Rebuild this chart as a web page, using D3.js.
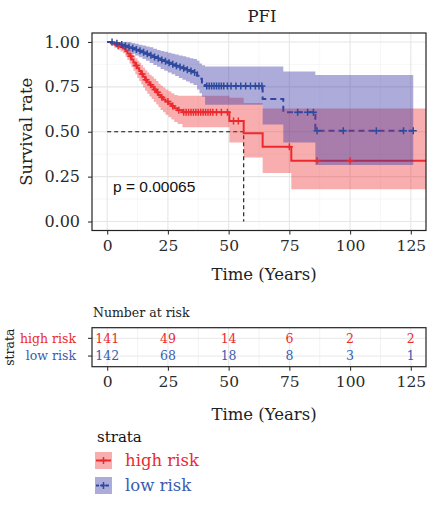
<!DOCTYPE html>
<html><head><meta charset="utf-8">
<script src="https://cdn.jsdelivr.net/npm/d3@7"></script>
<style>body{margin:0;background:#fff}</style>
</head><body>
<svg id="c" width="434" height="513"></svg>
<script>
// ---------- data ----------
const strata = ["high risk", "low risk"];
// high risk KM steps: time, survival, lower CI, upper CI
const highTime = [0,1.5,3,4.5,5.5,6.5,7.5,8.3,9.2,10,10.8,11.6,12.4,13.2,14,14.8,15.6,16.5,17.4,18.3,19.2,20.2,21.1,22,23,24,25.2,26.4,27.6,29,31,50.3,56.2,64,75.8,131.25];
const highSurv = [1,.993,.986,.979,.972,.964,.950,.936,.920,.903,.886,.869,.853,.838,.822,.806,.790,.776,.762,.750,.735,.720,.705,.692,.680,.668,.656,.643,.631,.620,.609,.560,.492,.417,.338,.338];
const highLow  = [1,.98,.967,.957,.947,.937,.918,.899,.88,.86,.84,.82,.80,.782,.764,.747,.729,.712,.697,.683,.667,.652,.636,.621,.608,.595,.581,.568,.555,.543,.525,.44,.356,.27,.18,.18];
const highUp   = [1,1,1,1,.993,.988,.980,.968,.955,.940,.925,.910,.895,.884,.870,.856,.842,.830,.818,.808,.795,.782,.768,.756,.746,.736,.725,.714,.705,.70,.70,.69,.66,.63,.63,.63];
const highCensor = [4.5,9.7,12,14.4,16,17.9,19.7,20.7,22.5,25,27,29.5,31.5,32.5,33.5,34.5,35.5,36.5,37.5,38.5,39.5,40.5,41.5,42.5,43.5,45,47,49.5,52,54,75,86.4,100];
// low risk KM steps
const lowTime = [0,3,5,7,8.5,10,11.5,13,14.5,16,17.5,19,20.5,22,23.5,25,26.5,28,29.5,31,32.5,34,35.5,37,38,39,40.3,64,72.5,85.7,126];
const lowSurv = [1,.993,.986,.979,.972,.965,.958,.951,.943,.935,.926,.917,.909,.900,.892,.884,.876,.868,.861,.853,.846,.838,.830,.812,.795,.775,.755,.683,.609,.506,.506];
const lowLow  = [1,.98,.965,.955,.945,.935,.925,.915,.905,.895,.883,.872,.862,.85,.84,.83,.82,.81,.80,.79,.78,.77,.76,.735,.715,.695,.65,.54,.44,.315,.315];
const lowUp   = [1,1,1,1,1,.995,.99,.985,.98,.975,.97,.962,.956,.95,.945,.94,.935,.93,.925,.92,.915,.91,.905,.895,.88,.87,.863,.863,.835,.816,.816];
const lowCensor = [2,4,6,7.5,9,10.5,12,13.5,15,16.5,18,19.5,21,22.5,24,25.5,27,28.5,30,31.5,33,34.5,36,41,42,43,44,45,46,47,48,49.5,51,53,55,57,59,61,62.5,63.7,78.4,82.5,84.9,86.4,97.2,110.8,122,126];
const pText = "p = 0.00065";
const medianTime = 56.2;
// risk table
const riskTimes = [0,25,50,75,100,125];
const riskHigh = [141,49,14,6,2,2];
const riskLow = [142,68,18,8,3,1];
const xTicks = [0,25,50,75,100,125];
const yTicks = [0,0.25,0.5,0.75,1];

// ---------- styling ----------
const RED = "#EC2A2E", BLUE = "#2C4A9E";
const RED_FILL = "#EC2A2E", BLUE_FILL = "#3F3DA6";
const SERIF = "'DejaVu Serif', serif";
const SANS = "'Liberation Sans', Arial, sans-serif";

const svg = d3.select("#c");
const L = 92, R = 426, T = 33, B = 230.5;
const x = d3.scaleLinear().domain([-6.25, 131.25]).range([L, R]);
const y = d3.scaleLinear().domain([-0.05, 1.05]).range([B, T]);

// title
svg.append("text").attr("x", 262).attr("y", 22).attr("text-anchor", "middle")
  .style("font-family", SERIF).style("font-size", "16.5px").attr("fill", "#222").text("PFI");

svg.append("defs").append("clipPath").attr("id", "clipMain")
  .append("rect").attr("x", L).attr("y", T).attr("width", R - L).attr("height", B - T);

// grid
const grid = svg.append("g");
const xMinor = [12.5, 37.5, 62.5, 87.5, 112.5];
const yMinor = [0.125, 0.375, 0.625, 0.875];
xMinor.forEach(v => grid.append("line").attr("x1", x(v)).attr("x2", x(v)).attr("y1", T).attr("y2", B).attr("stroke", "#F2F2F2").attr("stroke-width", 0.6));
yMinor.forEach(v => grid.append("line").attr("y1", y(v)).attr("y2", y(v)).attr("x1", L).attr("x2", R).attr("stroke", "#F2F2F2").attr("stroke-width", 0.6));
xTicks.forEach(v => grid.append("line").attr("x1", x(v)).attr("x2", x(v)).attr("y1", T).attr("y2", B).attr("stroke", "#E6E6E6").attr("stroke-width", 1.1));
yTicks.forEach(v => grid.append("line").attr("y1", y(v)).attr("y2", y(v)).attr("x1", L).attr("x2", R).attr("stroke", "#E6E6E6").attr("stroke-width", 1.1));

const plot = svg.append("g").attr("clip-path", "url(#clipMain)");

function series(t, s, lo, hi) { return t.map((tt, i) => ({t: tt, s: s[i], lo: lo[i], hi: hi[i]})); }
const high = series(highTime, highSurv, highLow, highUp);
const low = series(lowTime, lowSurv, lowLow, lowUp);

const line = d3.line().x(d => x(d.t)).y(d => y(d.s)).curve(d3.curveStepAfter);
const area = d3.area().x(d => x(d.t)).y0(d => y(d.lo)).y1(d => y(d.hi)).curve(d3.curveStepAfter);

// median lines
plot.append("path").attr("d", `M${x(0)},${y(0.5)}H${x(medianTime)}V${y(0)}`)
  .attr("fill", "none").attr("stroke", "#111").attr("stroke-width", 1.1).attr("stroke-dasharray", "4,3");

// lines
plot.append("path").datum(high).attr("d", line).attr("fill", "none").attr("stroke", RED).attr("stroke-width", 2);
plot.append("path").datum(low).attr("d", line).attr("fill", "none").attr("stroke", BLUE).attr("stroke-width", 2).attr("stroke-dasharray", "6,4");
// ribbons
plot.append("path").datum(high).attr("d", area).attr("fill", RED_FILL).attr("fill-opacity", 0.38);
plot.append("path").datum(low).attr("d", area).attr("fill", BLUE_FILL).attr("fill-opacity", 0.43);

// censor marks
function survAt(times, surv, t) { let v = surv[0]; for (let i = 0; i < times.length; i++) { if (times[i] <= t) v = surv[i]; } return v; }
function cross(g, tt, ss, col) {
  const cx = x(tt), cy = y(ss);
  g.append("path").attr("d", `M${cx-3.5},${cy}H${cx+3.5}M${cx},${cy-3.5}V${cy+3.5}`).attr("stroke", col).attr("stroke-width", 1.5).attr("fill", "none");
}
highCensor.forEach(t => cross(plot, t, survAt(highTime, highSurv, t), RED));
lowCensor.forEach(t => cross(plot, t, survAt(lowTime, lowSurv, t), BLUE));

// p value
svg.append("text").attr("x", 113).attr("y", 192).style("font-family", SANS).style("font-size", "15.5px").attr("fill", "#111").text(pText);

// panel border
svg.append("rect").attr("x", L).attr("y", T).attr("width", R - L).attr("height", B - T).attr("fill", "none").attr("stroke", "#222").attr("stroke-width", 1.2);

// axes
function styleAxis(g, size) {
  g.select(".domain").remove();
  g.selectAll(".tick line").attr("stroke", "#333").attr("stroke-width", 1.1);
  g.selectAll(".tick text").style("font-family", SERIF).style("font-size", size).attr("fill", "#2a2a2a");
}
const xAxis = svg.append("g").attr("transform", `translate(0,${B})`)
  .call(d3.axisBottom(x).tickValues(xTicks).tickSize(4).tickPadding(5).tickFormat(d3.format("d")));
styleAxis(xAxis, "15.5px");
const yAxis = svg.append("g").attr("transform", `translate(${L},0)`)
  .call(d3.axisLeft(y).tickValues(yTicks).tickSize(4).tickPadding(8).tickFormat(d3.format(".2f")));
styleAxis(yAxis, "16px");

svg.append("text").attr("x", 264).attr("y", 280).attr("text-anchor", "middle")
  .style("font-family", SERIF).style("font-size", "16.5px").attr("fill", "#222").text("Time (Years)");
svg.append("text").attr("transform", `translate(32,${(T + B) / 2}) rotate(-90)`).attr("text-anchor", "middle")
  .style("font-family", SERIF).style("font-size", "16.5px").attr("fill", "#222").text("Survival rate");

// ---------- risk table ----------
const RT = 327.7, RB = 366.7;
const ryLin = d3.scaleLinear().domain([0.4, 2.6]).range([RB, RT]);
const rowY = {"high risk": ryLin(2), "low risk": ryLin(1)};

svg.append("text").attr("x", 93).attr("y", 317).style("font-family", SERIF).style("font-size", "12.5px").attr("fill", "#222").text("Number at risk");

const rg = svg.append("g");
xMinor.forEach(v => rg.append("line").attr("x1", x(v)).attr("x2", x(v)).attr("y1", RT).attr("y2", RB).attr("stroke", "#EFEFEF").attr("stroke-width", 0.8));
xTicks.forEach(v => rg.append("line").attr("x1", x(v)).attr("x2", x(v)).attr("y1", RT).attr("y2", RB).attr("stroke", "#E8E8E8").attr("stroke-width", 1));
strata.forEach(s => rg.append("line").attr("y1", rowY[s]).attr("y2", rowY[s]).attr("x1", L).attr("x2", R).attr("stroke", "#E8E8E8").attr("stroke-width", 1));

const riskRows = [{k: "high risk", v: riskHigh, c: RED}, {k: "low risk", v: riskLow, c: "#3A5BB0"}];
riskRows.forEach(r => {
  rg.selectAll(null).data(riskTimes).enter().append("text")
    .attr("x", d => x(d)).attr("y", rowY[r.k]).attr("dy", "0.35em").attr("text-anchor", "middle")
    .style("font-family", SERIF).style("font-size", "12.5px").attr("fill", r.c)
    .text((d, i) => r.v[i]);
});
svg.append("rect").attr("x", L).attr("y", RT).attr("width", R - L).attr("height", RB - RT).attr("fill", "none").attr("stroke", "#222").attr("stroke-width", 1.2);

const rxAxis = svg.append("g").attr("transform", `translate(0,${RB})`)
  .call(d3.axisBottom(x).tickValues(xTicks).tickSize(4).tickPadding(5).tickFormat(d3.format("d")));
styleAxis(rxAxis, "15.5px");
strata.forEach((s, i) => {
  svg.append("line").attr("x1", L - 4).attr("x2", L).attr("y1", rowY[s]).attr("y2", rowY[s]).attr("stroke", "#333").attr("stroke-width", 1.1);
  svg.append("text").attr("x", 76).attr("y", rowY[s]).attr("dy", "0.35em").attr("text-anchor", "end")
    .style("font-family", SERIF).style("font-size", "12.5px").attr("fill", riskRows[i].c).text(s);
});
svg.append("text").attr("transform", `translate(14,${(RT + RB) / 2}) rotate(-90)`).attr("text-anchor", "middle")
  .style("font-family", SERIF).style("font-size", "12.5px").attr("fill", "#222").text("strata");
svg.append("text").attr("x", 264).attr("y", 420).attr("text-anchor", "middle")
  .style("font-family", SERIF).style("font-size", "16.5px").attr("fill", "#222").text("Time (Years)");

// ---------- legend ----------
const lg = svg.append("g");
lg.append("text").attr("x", 97).attr("y", 442).style("font-family", SERIF).style("font-size", "15px").attr("fill", "#111").text("strata");
const legItems = [{k: "high risk", fill: RED_FILL, op: 0.38, col: RED, dash: null, y: 460.5, tc: RED},
                  {k: "low risk", fill: BLUE_FILL, op: 0.43, col: BLUE, dash: "3,2", y: 485.5, tc: "#3A5BB0"}];
legItems.forEach(it => {
  lg.append("rect").attr("x", 95).attr("y", it.y - 8.5).attr("width", 17).attr("height", 17).attr("fill", it.fill).attr("fill-opacity", it.op);
  lg.append("line").attr("x1", 96).attr("x2", 111).attr("y1", it.y).attr("y2", it.y).attr("stroke", it.col).attr("stroke-width", 2).attr("stroke-dasharray", it.dash);
  lg.append("path").attr("d", `M${103.5-3.5},${it.y}H${103.5+3.5}M103.5,${it.y-3.5}V${it.y+3.5}`).attr("stroke", it.col).attr("stroke-width", 1.5);
  lg.append("text").attr("x", 125).attr("y", it.y + 5).style("font-family", SERIF).style("font-size", "16.5px").attr("fill", it.tc).text(it.k);
});
</script>
</body></html>
